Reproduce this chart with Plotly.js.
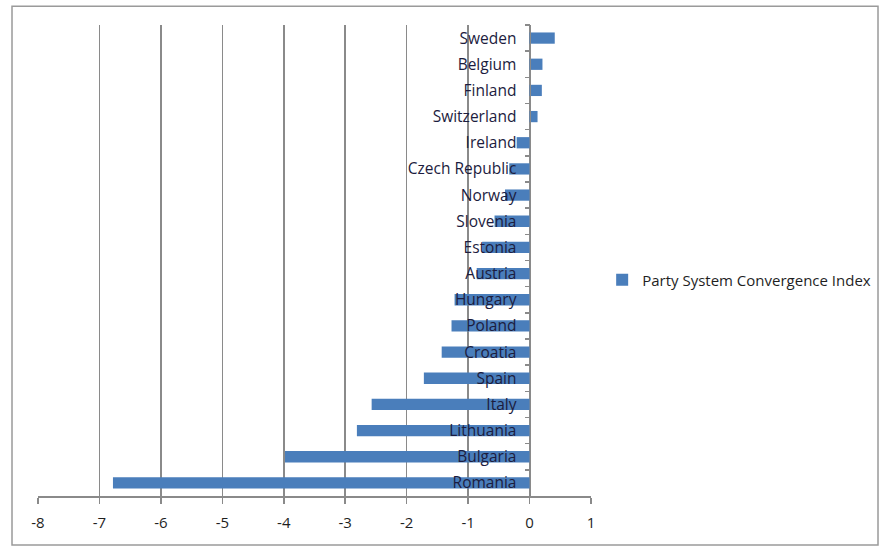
<!DOCTYPE html>
<html>
<head>
<meta charset="utf-8">
<script src="https://cdn.plot.ly/plotly-3.0.1.min.js"></script>
<style>
  html, body { margin: 0; padding: 0; background: #fff; }
  #chart { width: 881px; height: 548px; }
</style>
</head>
<body>
<div id="chart"></div>
<script>
// Countries listed top to bottom
const countries = [
  "Sweden", "Belgium", "Finland", "Switzerland", "Ireland", "Czech Republic",
  "Norway", "Slovenia", "Estonia", "Austria", "Hungary", "Poland",
  "Croatia", "Spain", "Italy", "Lithuania", "Bulgaria", "Romania"
];
const convergenceIndex = [
  0.41, 0.21, 0.20, 0.13, -0.21, -0.33,
  -0.40, -0.57, -0.77, -0.86, -1.22, -1.27,
  -1.43, -1.72, -2.57, -2.81, -3.98, -6.78
];
const seriesName = "Party System Convergence Index";
const xTicks = [-8, -7, -6, -5, -4, -3, -2, -1, 0, 1];

const labelFont = { family: "Open Sans, Noto Sans, sans-serif", size: 15.5, color: "#1c1c3e" };

const trace = {
  type: "bar",
  orientation: "h",
  x: convergenceIndex,
  y: countries,
  name: seriesName,
  showlegend: true,
  marker: { color: "#4a7ebb" }
};

const layout = {
  width: 881,
  height: 548,
  margin: { l: 38, r: 290, t: 25, b: 52 },
  paper_bgcolor: "#ffffff",
  plot_bgcolor: "#ffffff",
  bargap: 0.57,
  font: labelFont,
  xaxis: {
    range: [-8, 1],
    automargin: false,
    tickvals: xTicks,
    ticktext: xTicks.map(String),
    showgrid: true,
    gridcolor: "#8a8a8a",
    gridwidth: 1.5,
    zeroline: false,
    showline: true,
    linecolor: "#8a8a8a",
    linewidth: 1.5,
    ticks: "outside",
    ticklen: 6,
    tickcolor: "#8a8a8a",
    tickwidth: 1.5,
    ticklabelstandoff: 6,
    tickfont: { family: "Open Sans, sans-serif", size: 15, color: "#1f1f1f" },
    fixedrange: true
  },
  yaxis: {
    type: "category",
    autorange: "reversed",
    automargin: false,
    anchor: "free",
    position: 8 / 9,
    showline: true,
    linecolor: "#8a8a8a",
    linewidth: 1.5,
    showgrid: false,
    ticks: "outside",
    tickson: "boundaries",
    ticklen: 5,
    tickcolor: "#8a8a8a",
    tickwidth: 1.5,
    ticklabelstandoff: 10,
    tickfont: labelFont,
    fixedrange: true
  },
  legend: {
    xref: "container",
    yref: "container",
    x: 0.6835,
    xanchor: "left",
    y: 0.489,
    yanchor: "middle",
    bgcolor: "rgba(0,0,0,0)",
    itemwidth: 30,
    font: { family: "Open Sans, sans-serif", size: 15, color: "#1f1f1f" }
  },
  shapes: [
    {
      type: "rect",
      xref: "paper", yref: "paper",
      x0: -0.047, x1: 1.519, y0: -0.104, y1: 1.040,
      line: { color: "#9a9a9a", width: 1.5 },
      fillcolor: "rgba(0,0,0,0)",
      layer: "below"
    }
  ]
};

Plotly.newPlot("chart", [trace], layout, { displayModeBar: false, staticPlot: true });
</script>
</body>
</html>
